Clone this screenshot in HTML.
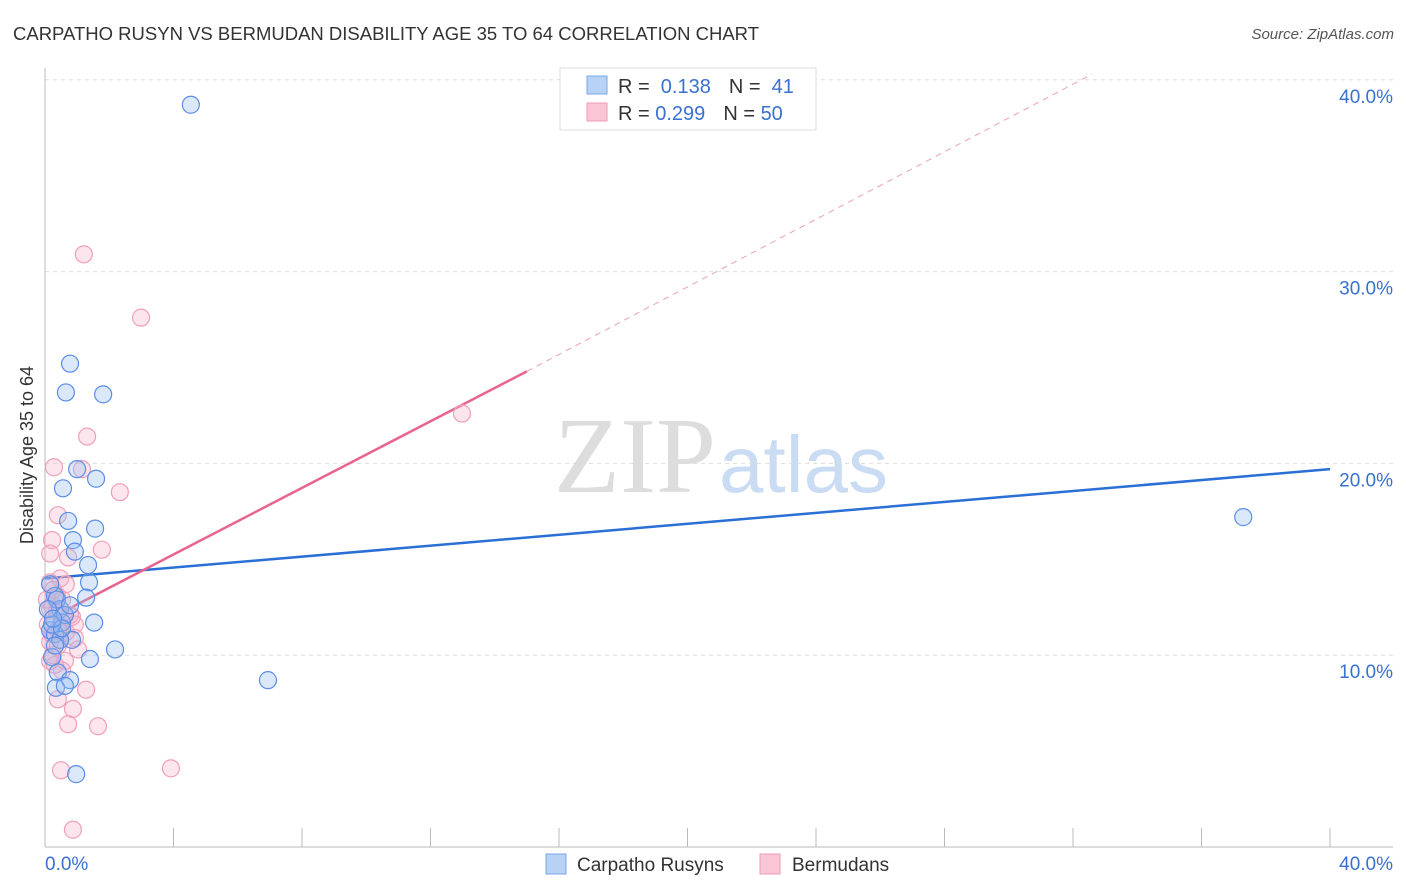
<!DOCTYPE html>
<html><head><meta charset="utf-8"><style>
body{margin:0;background:#fff;font-family:"Liberation Sans",sans-serif}
svg{display:block}
</style></head><body>
<svg id="chart" width="1406" height="892">
<text x="13" y="40" font-size="18.5" fill="#333">CARPATHO RUSYN VS BERMUDAN DISABILITY AGE 35 TO 64 CORRELATION CHART</text>
<text x="1394" y="39" font-size="15" fill="#555" font-style="italic" text-anchor="end">Source: ZipAtlas.com</text>
<text x="716" y="492" font-size="108" fill="#ddd" font-family="Liberation Serif,serif" text-anchor="end">ZIP</text>
<text x="719" y="492" font-size="80" fill="#c9dcf3">atlas</text>
<g id="grid"></g><g id="axes"></g><g id="lines"></g><g id="pts"></g>
<text transform="translate(33,455) rotate(-90)" font-size="18" fill="#333" text-anchor="middle">Disability Age 35 to 64</text>
<g>
<rect x="560" y="68" width="256" height="62" fill="#fff" stroke="#ddd"/>
<rect x="587" y="76" width="20" height="18" fill="#b7d2f5" stroke="#7aa7e6"/>
<rect x="587" y="103" width="20" height="18" fill="#f9c6d5" stroke="#f09ab5"/>
<text x="618" y="93" font-size="20" fill="#333">R = <tspan fill="#3a70d0">&#160;0.138</tspan><tspan dx="18">N = </tspan><tspan fill="#3a70d0">&#160;41</tspan></text>
<text x="618" y="120" font-size="20" fill="#333">R = <tspan fill="#3a70d0">0.299</tspan><tspan dx="18">N = </tspan><tspan fill="#3a70d0">50</tspan></text>
</g>
<g>
<rect x="546" y="854" width="20" height="20" fill="#b7d2f5" stroke="#7aa7e6"/>
<text x="577" y="871" font-size="19" fill="#333">Carpatho Rusyns</text>
<rect x="760" y="854" width="20" height="20" fill="#f9c6d5" stroke="#f09ab5"/>
<text x="792" y="871" font-size="19" fill="#333">Bermudans</text>
</g>
</svg>
<script>
const yTicks=[10,20,30,40];
const xTickLabels=["0.0%","40.0%"];
const blueX=[4.54,0.78,0.65,1.81,1.0,0.56,1.59,0.72,1.56,0.87,0.93,1.34,1.37,1.28,0.31,0.47,0.53,1.53,0.16,0.31,0.84,2.18,1.4,0.22,6.94,0.4,0.78,0.34,0.62,0.97,37.3,0.16,0.37,0.62,0.22,0.47,0.09,0.53,0.31,0.78,0.25];
const blueY=[38.7,25.2,23.7,23.6,19.7,18.7,19.2,17.0,16.6,16.0,15.4,14.7,13.8,13.0,13.1,12.4,11.7,11.7,11.3,11.1,10.8,10.3,9.8,9.9,8.7,9.1,8.7,8.3,8.4,3.8,17.2,13.7,12.9,12.1,11.6,10.8,12.4,11.4,10.5,12.6,11.9];
const pinkX=[1.21,2.99,12.98,1.31,0.28,1.15,2.33,0.40,0.22,1.77,0.16,0.72,0.47,0.16,0.37,0.53,0.22,0.84,0.31,0.09,0.47,0.65,0.93,0.16,0.40,1.03,0.25,0.62,0.31,0.53,1.28,0.40,0.87,0.72,1.65,0.50,3.92,0.87,0.16,0.37,0.59,0.22,0.06,0.78,0.47,0.25,0.65,0.40,0.16,0.93];
const pinkY=[30.9,27.6,22.6,21.4,19.8,19.7,18.5,17.3,16.0,15.5,15.3,15.1,14.0,13.8,13.1,12.9,12.6,12.0,11.8,11.6,11.4,11.2,10.9,10.7,10.5,10.3,10.0,9.7,9.5,9.2,8.2,7.7,7.2,6.4,6.3,4.0,4.1,0.9,12.4,12.3,12.1,11.1,12.9,12.1,10.8,13.4,13.7,11.3,9.7,11.6];
const blueLine=[0,14.0,40,19.7];
const pinkLine=[0.6,12.3,15,24.8,32.6,40.3];
const NS="http://www.w3.org/2000/svg";
const X=v=>45+v*1285/40, Y=v=>847-v*19.18;
function mk(p,tag,a){const e=document.createElementNS(NS,tag);for(const k in a)e.setAttribute(k,a[k]);document.getElementById(p).appendChild(e);return e;}
yTicks.forEach(t=>{
 const l=mk('grid','line',{x1:45,x2:1393,y1:Y(t),y2:Y(t),stroke:'#ddd','stroke-dasharray':'4,4'});
 
 
 const tx=mk('grid','text',{x:1393,y:Y(t)+23,'font-size':19,fill:'#3a70d0','text-anchor':'end'});tx.textContent=t.toFixed(1)+'%';
 
 
});
mk('axes','line',{x1:45,x2:45,y1:68,y2:847,stroke:'#bbb'});
mk('axes','line',{x1:45,x2:1393,y1:847,y2:847,stroke:'#bbb'});
for(let i=0;i<=10;i++){mk('axes','line',{x1:X(i*4),x2:X(i*4),y1:828,y2:847,stroke:'#bbb'});}
const xl0=mk('axes','text',{x:45,y:870,'font-size':19,fill:'#3a70d0'});xl0.textContent=xTickLabels[0];


const xl1=mk('axes','text',{x:1393,y:870,'font-size':19,fill:'#3a70d0','text-anchor':'end'});xl1.textContent=xTickLabels[1];


function dots(xs,ys,fill,stroke,name){xs.forEach((x,i)=>{const c=mk('pts','circle',{cx:X(x),cy:Y(ys[i]),r:8.5,fill:fill,stroke:stroke,'stroke-width':1.2});
 
 });}
dots(pinkX,pinkY,'rgba(245,170,195,0.3)','#f0a0b8','bermudan-point');
dots(blueX,blueY,'rgba(150,190,240,0.35)','#5b8ee6','carpatho-point');
const bl=mk('lines','line',{x1:X(blueLine[0]),y1:Y(blueLine[1]),x2:X(blueLine[2]),y2:Y(blueLine[3]),stroke:'#2a6fd6','stroke-width':2.5});


const pl=mk('lines','line',{x1:X(pinkLine[0]),y1:Y(pinkLine[1]),x2:X(pinkLine[2]),y2:Y(pinkLine[3]),stroke:'#e8648e','stroke-width':2.5});


const pd=mk('lines','line',{x1:X(pinkLine[2]),y1:Y(pinkLine[3]),x2:X(pinkLine[4]),y2:Y(pinkLine[5]),stroke:'#eca0b8','stroke-width':1,'stroke-dasharray':'6,5'});


</script>
</body></html>
